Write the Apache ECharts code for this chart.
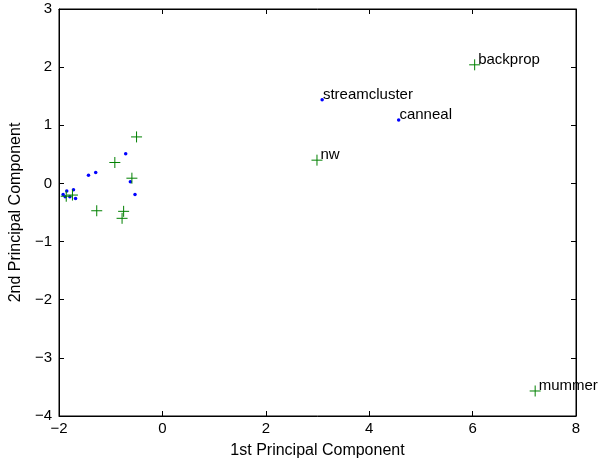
<!DOCTYPE html>
<html>
<head>
<meta charset="utf-8">
<script src="https://cdn.jsdelivr.net/npm/echarts@6/dist/echarts.min.js"></script>
<style>
  html, body { margin: 0; padding: 0; background: #fff; }
  #main { width: 613px; height: 464px; }
</style>
</head>
<body>
<div id="main"></div>
<script>
// blue dots
var dotX = [-0.71, -1.43, -1.29, -0.62, -0.53, -1.92, -1.85, -1.72, -1.88, -1.79, -1.68, 3.09, 4.57];
var dotY = [0.51, 0.14, 0.19, 0.03, -0.19, -0.19, -0.13, -0.11, -0.23, -0.23, -0.26, 1.44, 1.09];
var dotNames = ['', '', '', '', '', '', '', '', '', '', '', 'streamcluster', 'canneal'];

// green pluses
var plusX = [-0.5, -0.92, -0.59, -1.86, -1.74, -1.27, -0.75, -0.78, 6.04, 2.99, 7.21];
var plusY = [0.8, 0.36, 0.09, -0.22, -0.2, -0.47, -0.48, -0.6, 2.04, 0.4, -3.57];
var plusNames = ['', '', '', '', '', '', '', '', 'backprop', 'nw', 'mummer'];

var font = 'Liberation Sans, Arial, Helvetica, sans-serif';
var minus = function (v) { return String(v).replace('-', '\u2212'); };

function pts(xs, ys, names) {
  var out = [];
  for (var i = 0; i < xs.length; i++) {
    out.push({ value: [xs[i], ys[i]], name: names[i] });
  }
  return out;
}

function labelStyle(dx) {
  return {
    show: true,
    position: 'right',
    distance: 0,
    offset: [dx, -5],
    color: '#000',
    fontFamily: font,
    fontSize: 15,
    formatter: function (p) { return p.name; }
  };
}

var myChart = echarts.init(document.getElementById('main'));

var option = {
  animation: false,
  grid: { left: 58, right: 37, top: 9, bottom: 47, show: true, borderColor: '#000', borderWidth: 1 },
  xAxis: [
    {
      type: 'value', min: -2, max: 8, interval: 2,
      name: '1st Principal Component', nameLocation: 'middle', nameGap: 27,
      nameTextStyle: { color: '#000', fontFamily: font, fontSize: 16 },
      axisLine: { show: true, onZero: false, lineStyle: { color: '#000' } },
      axisTick: { inside: true, length: 5, lineStyle: { color: '#000' } },
      axisLabel: { color: '#000', fontFamily: font, fontSize: 15, margin: 5, formatter: minus },
      splitLine: { show: false }
    },
    {
      type: 'value', min: -2, max: 8, interval: 2, position: 'top',
      axisLine: { show: true, onZero: false, lineStyle: { color: '#000' } },
      axisTick: { show: true, inside: true, length: 5, lineStyle: { color: '#000' } },
      axisLabel: { show: false },
      splitLine: { show: false }
    }
  ],
  yAxis: [
    {
      type: 'value', min: -4, max: 3, interval: 1,
      name: '2nd Principal Component', nameLocation: 'middle', nameGap: 28,
      nameTextStyle: { color: '#000', fontFamily: font, fontSize: 16 },
      axisLine: { show: true, onZero: false, lineStyle: { color: '#000' } },
      axisTick: { inside: true, length: 5, lineStyle: { color: '#000' } },
      axisLabel: { color: '#000', fontFamily: font, fontSize: 15, margin: 7, formatter: minus },
      splitLine: { show: false }
    },
    {
      type: 'value', min: -4, max: 3, interval: 1, position: 'right',
      axisLine: { show: true, onZero: false, lineStyle: { color: '#000' } },
      axisTick: { show: true, inside: true, length: 5, lineStyle: { color: '#000' } },
      axisLabel: { show: false },
      splitLine: { show: false }
    }
  ],
  series: [
    {
      type: 'scatter',
      data: pts(dotX, dotY, dotNames),
      symbol: 'circle',
      symbolSize: 3.5,
      itemStyle: { color: '#0000ff', opacity: 1 },
      label: labelStyle(-1)
    },
    {
      type: 'scatter',
      data: pts(plusX, plusY, plusNames),
      symbol: 'path://M0,5 L10,5 M5,0 L5,10',
      symbolSize: 11,
      itemStyle: { color: 'none', borderColor: '#008000', borderWidth: 1, opacity: 1 },
      label: labelStyle(-4.5)
    }
  ]
};

myChart.setOption(option);
</script>
</body>
</html>
